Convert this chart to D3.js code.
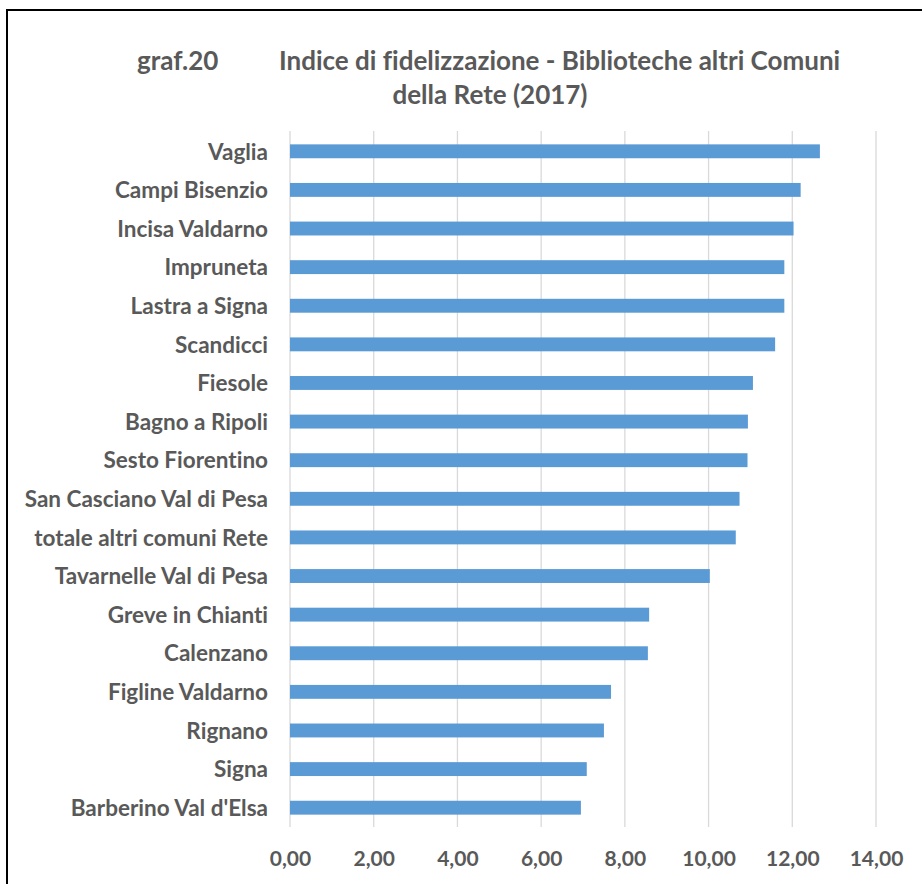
<!DOCTYPE html>
<html><head><meta charset="utf-8">
<script src="https://cdn.jsdelivr.net/npm/d3@7"></script>
<style>
html,body{margin:0;padding:0;background:#fff;}
svg{display:block;}
text{font-family:Lato,"Open Sans",sans-serif;font-weight:700;fill:#595959;font-variant-ligatures:none;}
</style></head>
<body><svg id="c" width="922" height="884"></svg>
<script>
const categories = ["Vaglia","Campi Bisenzio","Incisa Valdarno","Impruneta","Lastra a Signa","Scandicci","Fiesole","Bagno a Ripoli","Sesto Fiorentino","San Casciano Val di Pesa","totale altri comuni Rete","Tavarnelle Val di Pesa","Greve in Chianti","Calenzano","Figline Valdarno","Rignano","Signa","Barberino Val d'Elsa"];
const values = [12.66,12.20,12.03,11.81,11.81,11.59,11.06,10.94,10.93,10.74,10.65,10.03,8.58,8.55,7.67,7.50,7.09,6.95];
const ticks = [0,2,4,6,8,10,12,14];
const titleParts = ["graf.20","Indice di fidelizzazione - Biblioteche altri Comuni","della Rete (2017)"];

const svg = d3.select("#c");
// frame
svg.append("rect").attr("x",7).attr("y",10).attr("width",1000).attr("height",1000)
  .attr("fill","none").attr("stroke","#000").attr("stroke-width",2);

const x = d3.scaleLinear().domain([0,14]).range([290,876]);
const y = d3.scaleBand().domain(categories).range([132,827]).paddingInner(0.64).paddingOuter(0.32);

// gridlines
svg.append("g").selectAll("line").data(ticks).join("line")
  .attr("x1",d=>x(d)).attr("x2",d=>x(d)).attr("y1",131).attr("y2",827)
  .attr("stroke","#d9d9d9").attr("stroke-width",1.3);

// bars
svg.append("g").selectAll("rect").data(values).join("rect")
  .attr("x",x(0)).attr("y",(d,i)=>y(categories[i]))
  .attr("width",d=>x(d)-x(0)).attr("height",y.bandwidth())
  .attr("fill","#5b9bd5");

// y labels
const yAxis = d3.axisLeft(y).tickSize(0).tickPadding(22);
const gy = svg.append("g").attr("transform",`translate(${x(0)},1)`).call(yAxis);
gy.select(".domain").remove();
gy.selectAll("text").style("font-size","22.5px").attr("fill","#595959").style("font-family","Lato,sans-serif");

// x labels
const xAxis = d3.axisBottom(x).tickValues(ticks).tickSize(0).tickPadding(24)
  .tickFormat(d=>d3.format(".2f")(d).replace(".",","));
const gx = svg.append("g").attr("transform","translate(0,827)").call(xAxis);
gx.select(".domain").remove();
gx.selectAll("text").style("font-size","21px").attr("fill","#595959").style("font-family","Lato,sans-serif");

// title
svg.append("text").attr("x",137).attr("y",70).style("font-size","26px").text(titleParts[0]);
svg.append("text").attr("x",279).attr("y",70).style("font-size","26px").text(titleParts[1]);
svg.append("text").attr("x",490).attr("y",104).attr("text-anchor","middle").style("font-size","26px").text(titleParts[2]);
</script></body></html>
